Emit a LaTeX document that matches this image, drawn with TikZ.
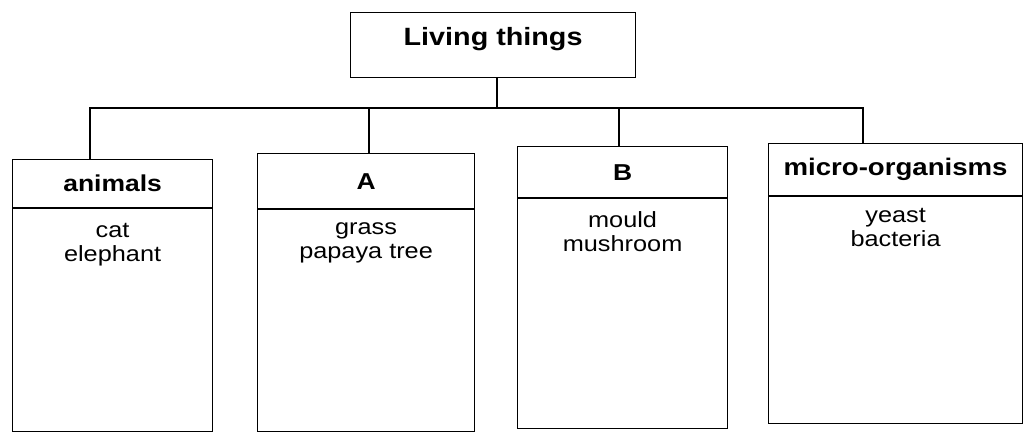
\documentclass[tikz,border=0pt]{standalone}
\usepackage{fontspec}
\setmainfont{Liberation Sans}[FakeStretch=1.15]
\begin{document}
\begin{tikzpicture}[x=1pt,y=-1pt,
  frame/.style={draw=black, line width=1.2pt, rectangle, inner sep=0pt, anchor=north west},
  head/.style={font=\fontsize{23}{26}\selectfont\bfseries},
  item/.style={font=\fontsize{22}{24}\selectfont, align=center, anchor=north, inner sep=0pt},
  conn/.style={draw=black, line width=1.2pt}]
\useasboundingbox (0,0) rectangle (1028,436);
% root
\node[frame, minimum width=285pt, minimum height=65pt] (root) at (350,12) {};
\node[font=\fontsize{25}{28}\selectfont\bfseries] (rootlabel) at ([yshift=6pt]root.center) {Living things};
% animals
\node[frame, minimum width=200pt, minimum height=48pt, head] (h1) at (12,159) {animals};
\node[frame, minimum width=200pt, minimum height=223pt] (b1) at (h1.south west) {};
\node[item] (t1) at ([yshift=-15pt]b1.north) {cat\\elephant};
% A
\node[frame, minimum width=217pt, minimum height=55pt, head] (h2) at (257,153) {A};
\node[frame, minimum width=217pt, minimum height=222pt] (b2) at (h2.south west) {};
\node[item] (t2) at ([yshift=-13pt]b2.north) {grass\\papaya tree};
% B
\node[frame, minimum width=210pt, minimum height=51pt, head] (h3) at (517,146) {B};
\node[frame, minimum width=210pt, minimum height=230pt] (b3) at (h3.south west) {};
\node[item] (t3) at ([yshift=-13pt]b3.north) {mould\\mushroom};
% micro-organisms
\node[frame, minimum width=254pt, minimum height=52pt, head, font=\fontsize{24}{27}\selectfont\bfseries] (h4) at (768,143) {micro-organisms};
\node[frame, minimum width=254pt, minimum height=227pt] (b4) at (h4.south west) {};
\node[item] (t4) at ([yshift=-12pt]b4.north) {yeast\\bacteria};
% connectors
\coordinate (bus) at (497,108);
\coordinate (d1) at (90,108);
\coordinate (d4) at (863,108);
\coordinate (d2) at (369,108);
\coordinate (d3) at (619,108);
\draw[conn] (root.south -| bus) -- (bus);
\draw[conn] (d1 |- h1.north) -- (d1) -- (d4) -- (d4 |- h4.north);
\draw[conn] (d2) -- (d2 |- h2.north);
\draw[conn] (d3) -- (d3 |- h3.north);
\end{tikzpicture}
\end{document}
